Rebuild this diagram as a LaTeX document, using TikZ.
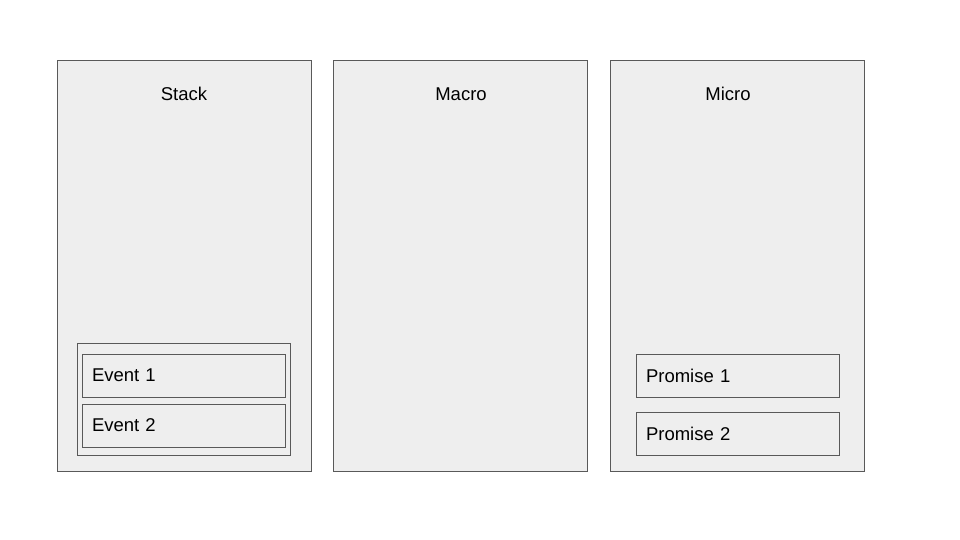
\documentclass[tikz,border=0pt]{standalone}
\usepackage{fontspec}
\setmainfont{Liberation Sans}
\usepackage{tikz}
\usetikzlibrary{positioning}
\definecolor{panelgray}{HTML}{EEEEEE}
\definecolor{edgegray}{HTML}{595959}
\tikzstyle{panel} = [rectangle, minimum width=254pt, minimum height=410pt, draw=edgegray, fill=panelgray, line width=1pt]
\tikzstyle{title} = [font=\fontsize{18.5}{22}\selectfont, text=black]
\tikzstyle{group} = [rectangle, minimum width=213pt, minimum height=112pt, draw=edgegray, line width=1pt]
\tikzstyle{task} = [rectangle, text width=183pt, inner xsep=10pt, minimum height=43pt, text depth=0pt, align=left, draw=edgegray, line width=1pt, font=\fontsize{18.5}{22}\selectfont]

\begin{document}
\begin{tikzpicture}[x=1pt, y=-1pt]
	\useasboundingbox (0,0) rectangle (960,540);
	\node(stack) [panel] at (184,266) {};
	\node(macro) [panel] at (460.5,266) {};
	\node(micro) [panel] at (737.5,266) {};
	
	\node(stack_title) [title] at (184,94) {Stack};
	\node(macro_title) [title] at (461,94) {Macro};
	\node(micro_title) [title] at (728,94) {Micro};
	
	\node(event_group) [group] at (183.5,399) {};
	\node(event_one) [task] at (183.5,375.5) {Event 1};
	\node(event_two) [task, below=6pt of event_one] {Event 2};
	
	\node(promise_one) [task] at (737.5,375.5) {Promise 1};
	\node(promise_two) [task, below=14pt of promise_one] {Promise 2};
\end{tikzpicture}
\end{document}
